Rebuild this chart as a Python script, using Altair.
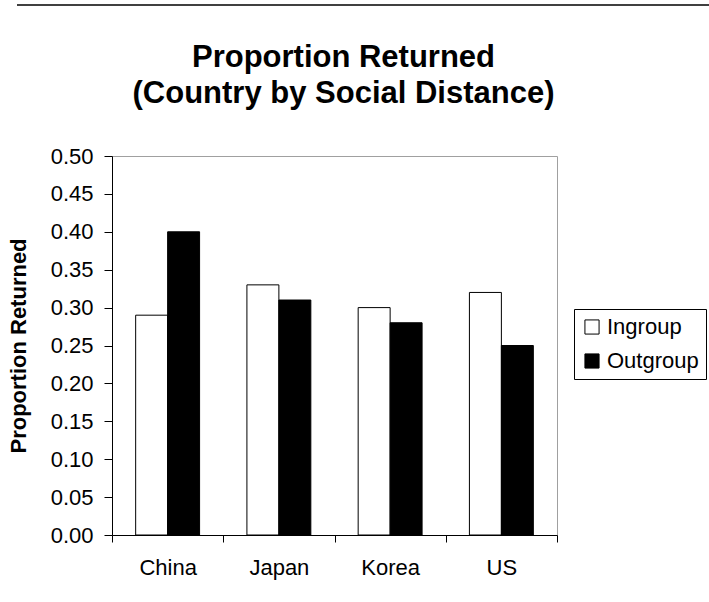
import altair as alt
import pandas as pd

# Proportion returned, by country and social distance
countries = ["China", "Japan", "Korea", "US"]
groups = ["Ingroup", "Outgroup"]
ingroup = [0.29, 0.33, 0.30, 0.32]
outgroup = [0.40, 0.31, 0.28, 0.25]
y_ticks = [0.00, 0.05, 0.10, 0.15, 0.20, 0.25, 0.30, 0.35, 0.40, 0.45, 0.50]

rows = []
for c, a, b in zip(countries, ingroup, outgroup):
    rows.append({"Country": c, "Group": "Ingroup", "Value": a})
    rows.append({"Country": c, "Group": "Outgroup", "Value": b})
df = pd.DataFrame(rows)

FONT = "Liberation Sans"
FS = 22
W, H = 445, 379
PAD_L, PAD_T = 112, 156

bars = alt.Chart(df).mark_bar(stroke="black", strokeWidth=1).encode(
    x=alt.X(
        "Country:N",
        sort=countries,
        scale=alt.Scale(paddingInner=0, paddingOuter=0),
        axis=alt.Axis(
            title=None, labelAngle=0, labelFontSize=FS, labelFont=FONT,
            labelColor="black", labelPadding=15, tickBand="extent",
            tickSize=7, tickColor="black", domainColor="black", grid=False,
        ),
    ),
    xOffset=alt.XOffset(
        "Group:N", sort=groups,
        scale=alt.Scale(paddingInner=0, paddingOuter=0.74),
    ),
    y=alt.Y(
        "Value:Q",
        scale=alt.Scale(domain=[0, 0.5], nice=False),
        axis=alt.Axis(
            title="Proportion Returned", titleFont=FONT, titleFontSize=FS,
            titleFontWeight="bold", titleColor="black", titlePadding=20,
            values=y_ticks, format=".2f", labelFontSize=FS, labelFont=FONT,
            labelColor="black", labelPadding=11, tickSize=8,
            tickColor="black", domainColor="black", grid=False,
        ),
    ),
    color=alt.Color(
        "Group:N",
        scale=alt.Scale(domain=groups, range=["white", "black"]),
        legend=alt.Legend(
            title=None, orient="none", legendX=462, legendY=153,
            symbolType="square", symbolSize=200, symbolStrokeColor="black",
            symbolStrokeWidth=1, labelFontSize=FS, labelFont=FONT,
            labelColor="black", strokeColor="black", padding=7,
            rowPadding=12, labelOffset=4,
        ),
    ),
)

# thin separator line across the top of the page
top_line = alt.Chart(pd.DataFrame({"k": [0]})).mark_rule(
    color="black", strokeWidth=1.5
).encode(
    x=alt.value(17 - PAD_L), x2=alt.value(709 - PAD_L), y=alt.value(5 - PAD_T)
)

chart = alt.layer(bars, top_line).properties(
    width=W,
    height=H,
    title=alt.TitleParams(
        text=["Proportion Returned", "(Country by Social Distance)"],
        font=FONT, fontSize=31, fontWeight="bold", color="black",
        anchor="middle", frame="group", lineHeight=36, offset=0,
        dy=106, dx=9,
    ),
    autosize=alt.AutoSizeParams(type="none"),
    padding={"left": PAD_L, "top": PAD_T, "right": 709 - PAD_L - W,
             "bottom": 602 - PAD_T - H},
    background="white",
).configure_view(stroke="#a0a0a0", strokeWidth=1)

chart.save("out.html", embed_options={"renderer": "svg", "actions": False})
